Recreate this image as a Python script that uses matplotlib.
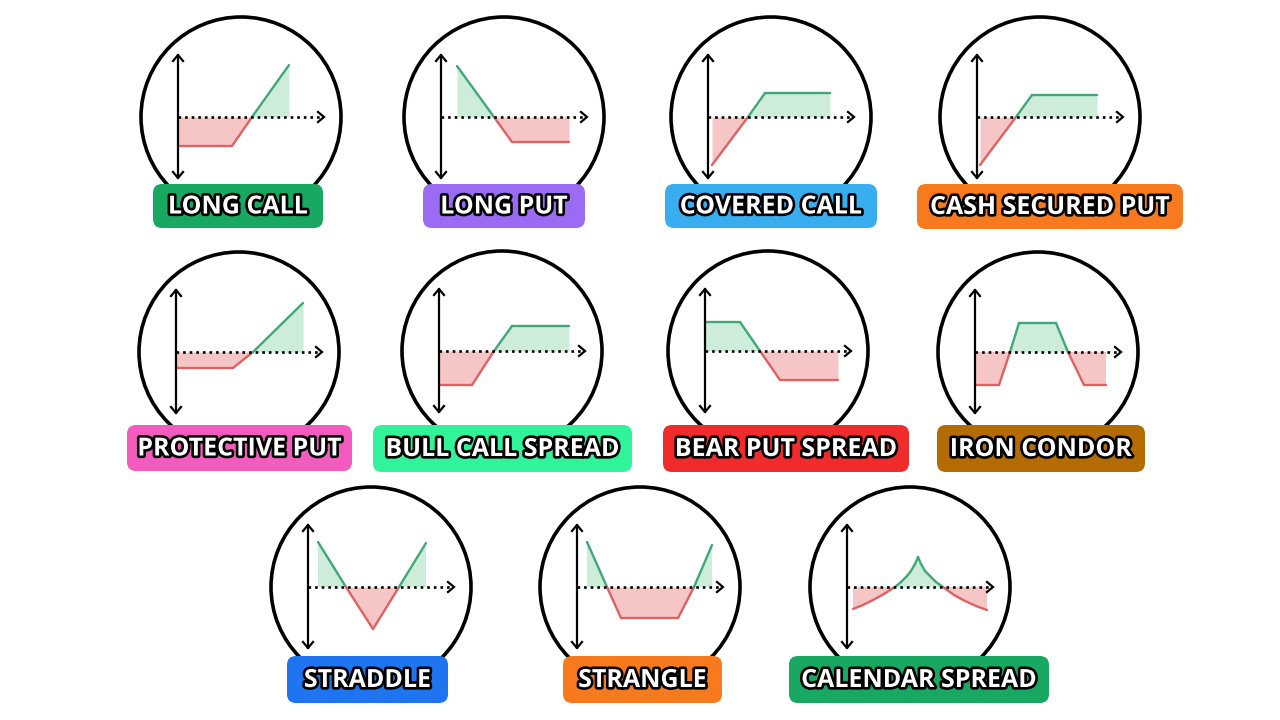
import matplotlib
matplotlib.use("Agg")
import matplotlib.pyplot as plt
import numpy as np
from matplotlib.patches import Circle, FancyBboxPatch
import matplotlib.patheffects as pe

W, H = 1280, 720

# ---------------- data ----------------
strategies = ["LONG CALL", "LONG PUT", "COVERED CALL", "CASH SECURED PUT",
              "PROTECTIVE PUT", "BULL CALL SPREAD", "BEAR PUT SPREAD", "IRON CONDOR",
              "STRADDLE", "STRANGLE", "CALENDAR SPREAD"]

label_colors = ["#18a862", "#9b6bf3", "#38aef0", "#f87a1f",
                "#f35cbe", "#30f39a", "#f02b2b", "#b46b00",
                "#1f75f0", "#f87a1f", "#18a862"]

# payoff diagrams: price (x) vs profit (y)
long_call_x = [0, 54, 74, 111]
long_call_y = [-29, -29, 0, 52]

long_put_x = [16, 53, 71, 128]
long_put_y = [51, 0, -25, -25]

covered_call_x = [4, 40, 57, 122]
covered_call_y = [-48, 0, 24, 24]

cash_secured_put_x = [3, 39, 55, 120]
cash_secured_put_y = [-48, 0, 22, 22]

protective_put_x = [0, 57, 77, 127]
protective_put_y = [-16, -16, 0, 49]

bull_call_spread_x = [0, 33, 55, 73, 130]
bull_call_spread_y = [-34, -34, 0, 25, 25]

bear_put_spread_x = [0, 35, 55, 75, 133]
bear_put_spread_y = [29, 29, 0, -29, -29]

iron_condor_x = [0, 24, 35, 44, 81, 93, 109, 131]
iron_condor_y = [-33, -33, 0, 29, 29, 0, -33, -33]

straddle_x = [10, 38, 65, 91, 118]
straddle_y = [45, 0, -42, 0, 44]

strangle_x = [10, 30, 44, 101, 117, 135]
strangle_y = [45, 0, -31, -31, 0, 42]

calendar_spread_x = [6, 16, 26, 37, 48, 54, 60, 64, 68, 71, 74, 78, 83, 89, 96, 107, 118, 129, 140]
calendar_spread_y = [-22, -18, -13, -7, 0, 5, 11, 16, 23, 30, 23, 16, 11, 5, 0, -8, -14, -19, -23]

payoff_x = [long_call_x, long_put_x, covered_call_x, cash_secured_put_x,
            protective_put_x, bull_call_spread_x, bear_put_spread_x, iron_condor_x,
            straddle_x, strangle_x, calendar_spread_x]
payoff_y = [long_call_y, long_put_y, covered_call_y, cash_secured_put_y,
            protective_put_y, bull_call_spread_y, bear_put_spread_y, iron_condor_y,
            straddle_y, strangle_y, calendar_spread_y]

# ---------------- layout (pixels) ----------------
origins = [(178, 117), (441, 117), (708, 117), (977, 117),
           (176, 352), (439, 351), (705, 351), (975, 352),
           (308, 587), (577, 587), (847, 587)]
boxes = [(153, 323, 184, 228), (423, 585, 184, 228), (665, 877, 184, 228), (917, 1183, 184, 229),
         (127, 352, 425, 471), (373, 632, 425, 472), (663, 909, 425, 472), (937, 1145, 425, 472),
         (287, 448, 656, 703), (563, 722, 656, 703), (789, 1049, 656, 703)]

GREEN_LINE = "#40a878"
RED_LINE = "#de6262"
GREEN_FILL = "#cdecda"
RED_FILL = "#f6c6c6"

fig = plt.figure(figsize=(12.8, 7.2), dpi=100)
fig.patch.set_facecolor("white")

for (ox, oy), xs, ys in zip(origins, payoff_x, payoff_y):
    ax = fig.add_axes([(ox - 70) / W, (H - (oy + 120)) / H, 260 / W, 240 / H])
    ax.set_xlim(-70, 190)
    ax.set_ylim(-120, 120)
    ax.axis("off")
    ax.patch.set_alpha(0)

    ax.add_patch(Circle((63, 0), 100, fill=False, lw=2.6, ec="black", clip_on=False))

    x = np.array(xs, dtype=float)
    y = np.array(ys, dtype=float)
    ax.fill_between(x, y, 0, where=y >= 0, interpolate=True, color=GREEN_FILL, lw=0)
    ax.fill_between(x, y, 0, where=y <= 0, interpolate=True, color=RED_FILL, lw=0)
    for i in range(len(x) - 1):
        c = GREEN_LINE if (y[i] + y[i + 1]) > 0 else RED_LINE
        ax.plot(x[i:i + 2], y[i:i + 2], color=c, lw=1.7, solid_capstyle="round")

    # horizontal dotted axis with arrow head
    end = 146
    ax.plot([0, end - 1], [0, 0], color="black", lw=1.9, linestyle=(0, (1.0, 1.5)))
    ax.plot([end - 6, end, end - 6], [5, 0, -5], color="black", lw=1.6,
            solid_joinstyle="miter")
    # vertical double arrow
    ax.plot([0, 0], [-61, 62], color="black", lw=1.6)
    ax.plot([-5, 0, 5], [56, 62, 56], color="black", lw=1.6)
    ax.plot([-5, 0, 5], [-55, -61, -55], color="black", lw=1.6)

over = fig.add_axes([0, 0, 1, 1])
over.set_xlim(0, W)
over.set_ylim(H, 0)
over.axis("off")
over.patch.set_alpha(0)

for name, col, (l, r, t, b) in zip(strategies, label_colors, boxes):
    over.add_patch(FancyBboxPatch((l, t), r - l, b - t,
                                  boxstyle="round,pad=0,rounding_size=9",
                                  fc=col, ec="none"))
    over.text((l + r) / 2, (t + b) / 2 + 1, name, ha="center", va="center",
              fontsize=18, color="white", fontweight="bold",
              family=["Open Sans", "DejaVu Sans"],
              path_effects=[pe.withStroke(linewidth=3.8, foreground="black")])

fig.savefig("out.png", dpi=100)
